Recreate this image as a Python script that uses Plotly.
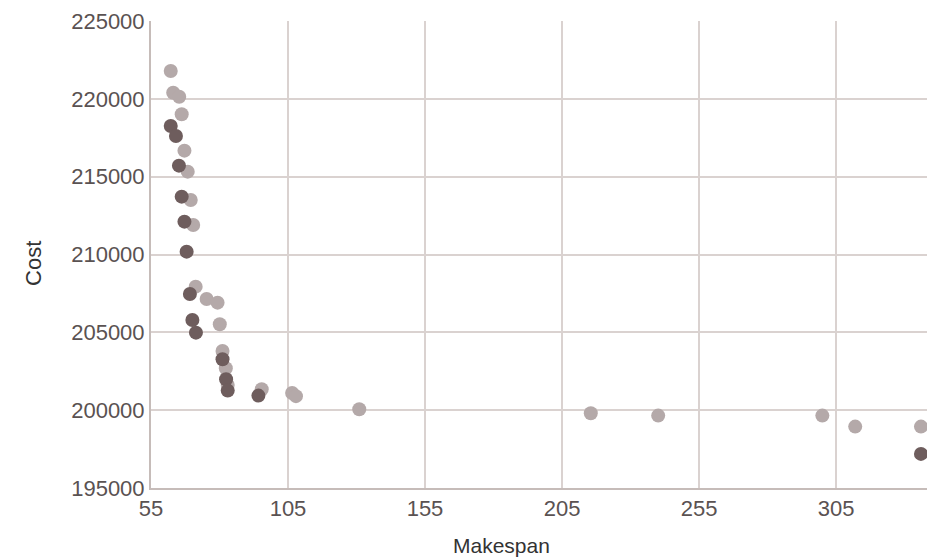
import plotly.graph_objects as go

light_makespan = [62.2, 63.1, 65.3, 66.2, 67.2, 68.4, 69.5, 70.4, 71.3, 75.3, 79.3, 80.1,
                  81.1, 82.3, 83.0, 95.4, 106.5, 107.9, 131.0, 215.5, 240.1, 300.0, 312.0, 336.0]
light_cost = [221790, 220395, 220138, 219008, 216670, 215321, 213504, 211898, 207935, 207145,
              206908, 205520, 203806, 202694, 201620, 201346, 201100, 200900, 200060, 199804,
              199650, 199650, 198944, 198944]

dark_makespan = [62.2, 64.1, 65.2, 66.2, 67.2, 68.0, 69.2, 70.1, 71.4, 81.1, 82.4, 83.0, 94.2, 336.0]
dark_cost = [218256, 217614, 215707, 213715, 212110, 210183, 207466, 205796, 204981, 203273,
             201987, 201256, 200935, 197190]

x_ticks = [55, 105, 155, 205, 255, 305]
y_ticks = [195000, 200000, 205000, 210000, 215000, 220000, 225000]

FONT = "Liberation Sans, Arial, sans-serif"
TICK_COLOR = "#5a5252"

fig = go.Figure()
fig.add_trace(go.Scatter(x=light_makespan, y=light_cost, mode="markers",
                         marker=dict(size=14, color="#b4a9a9", line=dict(width=0)),
                         showlegend=False))
fig.add_trace(go.Scatter(x=dark_makespan, y=dark_cost, mode="markers",
                         marker=dict(size=14, color="#6e5d5d", line=dict(width=0)),
                         showlegend=False))

fig.update_layout(
    width=927, height=558,
    margin=dict(l=151, r=0, t=21, b=70),
    paper_bgcolor="white", plot_bgcolor="white",
    font=dict(family=FONT, size=22, color=TICK_COLOR),
    xaxis=dict(range=[55, 338.2], tickvals=x_ticks, ticktext=[str(v) for v in x_ticks],
               showgrid=True, gridcolor="#dad2d0", gridwidth=1.5,
               showline=True, linecolor="#c6bcb9", linewidth=2,
               zeroline=False, ticks="", automargin=False,
               tickfont=dict(size=22, color=TICK_COLOR)),
    yaxis=dict(range=[195000, 225000], tickvals=y_ticks, ticktext=[str(v) for v in y_ticks],
               showgrid=True, gridcolor="#dad2d0", gridwidth=1.5,
               showline=True, linecolor="#c6bcb9", linewidth=2,
               zeroline=False, ticks="", automargin=False,
               tickfont=dict(size=22, color=TICK_COLOR)),
    annotations=[
        dict(text="Makespan", xref="paper", yref="paper", x=0.452, y=-0.124,
             xanchor="center", yanchor="middle", showarrow=False,
             font=dict(family=FONT, size=21, color="#333333")),
        dict(text="Cost", xref="paper", yref="paper", x=-0.1508, y=0.4818,
             xanchor="center", yanchor="middle", showarrow=False, textangle=-90,
             font=dict(family=FONT, size=22, color="#333333")),
    ],
)

fig.write_html("out.html", config={"displayModeBar": False},
               post_script="document.body.style.margin='0px';document.body.style.overflow='hidden';")
